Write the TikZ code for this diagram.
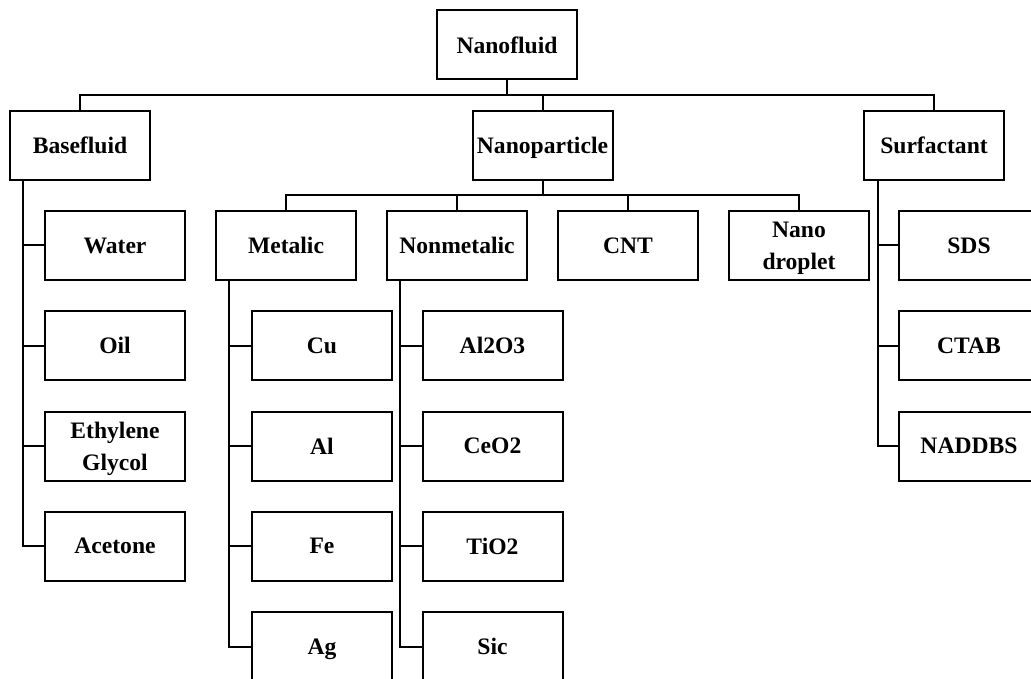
\documentclass[tikz,border=0pt]{standalone}
\usepackage{fontspec}
\setmainfont{Liberation Serif}
\begin{document}
\begin{tikzpicture}[x=1pt,y=-1pt,
  box/.style={draw,line width=2pt,minimum width=140pt,minimum height=69pt,inner sep=0pt,
    text depth=0pt,align=center,font=\fontsize{23.6}{32}\selectfont\bfseries},
  conn/.style={line width=2pt}]
\useasboundingbox (0,0) rectangle (1031,679);
\clip (0,0) rectangle (1031,679);
% top
\node[box] (nf) at (507,45) {Nanofluid};
\node[box] (base) at (80,145.5) {Basefluid};
\node[box] (npart) at (542.5,145.5) {Nanoparticle};
\node[box] (surf) at (934,145.5) {Surfactant};
% row 1
\node[box] (water) at (115,245.5) {Water};
\node[box] (metalic) at (286,245.5) {Metalic};
\node[box] (nonmet) at (457,245.5) {Nonmetalic};
\node[box] (cnt) at (628,245.5) {CNT};
\node[box] (drop) at (799,245.5) {Nano\\droplet};
\node[box] (sds) at (969,245.5) {SDS};
% row 2
\node[box] (oil) at (115,345.5) {Oil};
\node[box] (cu) at (322,345.5) {Cu};
\node[box] (al2o3) at (492.5,345.5) {Al2O3};
\node[box] (ctab) at (969,345.5) {CTAB};
% row 3
\node[box] (eg) at (115,446) {Ethylene\\Glycol};
\node[box] (al) at (322,446) {Al};
\node[box] (ceo2) at (492.5,446) {CeO2};
\node[box] (naddbs) at (969,446) {NADDBS};
% row 4
\node[box] (acetone) at (115,546) {Acetone};
\node[box] (fe) at (322,546) {Fe};
\node[box] (tio2) at (492.5,546) {TiO2};
% row 5
\node[box] (ag) at (322,646.5) {Ag};
\node[box] (sic) at (492.5,646.5) {Sic};
% buses
\coordinate (b1) at (507,95);
\coordinate (b2) at (542.5,195);
\draw[conn] (nf.south) -- (b1);
\draw[conn] (base.north) |- (b1) -| (surf.north);
\draw[conn] (npart.north) -- (npart.north |- b1);
\draw[conn] (npart.south) -- (b2);
\draw[conn] (metalic.north) |- (b2) -| (drop.north);
\draw[conn] (nonmet.north) -- (nonmet.north |- b2);
\draw[conn] (cnt.north) -- (cnt.north |- b2);
% spines
\coordinate (s1) at ([xshift=14pt]base.south west);
\coordinate (s2) at ([xshift=14pt]metalic.south west);
\coordinate (s3) at ([xshift=14pt]nonmet.south west);
\coordinate (s4) at ([xshift=15pt]surf.south west);
\draw[conn] (s1) |- (acetone.west);
\draw[conn] (water.west) -- (water.west -| s1);
\draw[conn] (oil.west) -- (oil.west -| s1);
\draw[conn] (eg.west) -- (eg.west -| s1);
\draw[conn] (s2) |- (ag.west);
\draw[conn] (cu.west) -- (cu.west -| s2);
\draw[conn] (al.west) -- (al.west -| s2);
\draw[conn] (fe.west) -- (fe.west -| s2);
\draw[conn] (s3) |- (sic.west);
\draw[conn] (al2o3.west) -- (al2o3.west -| s3);
\draw[conn] (ceo2.west) -- (ceo2.west -| s3);
\draw[conn] (tio2.west) -- (tio2.west -| s3);
\draw[conn] (s4) |- (naddbs.west);
\draw[conn] (sds.west) -- (sds.west -| s4);
\draw[conn] (ctab.west) -- (ctab.west -| s4);
\end{tikzpicture}
\end{document}
